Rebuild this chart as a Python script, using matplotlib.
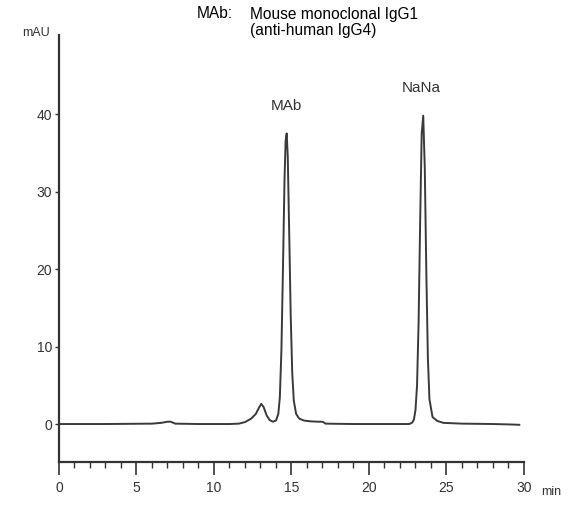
import matplotlib.pyplot as plt
from matplotlib.ticker import MultipleLocator

# retention time (min) and absorbance (mAU)
time = [0.0, 3.0, 6.0, 6.6, 7.0, 7.2, 7.5, 9.0, 11.0, 11.6, 12.0, 12.4, 12.7,
        12.9, 13.05, 13.2, 13.4, 13.6, 13.8, 14.0, 14.15, 14.25, 14.35, 14.45,
        14.55, 14.62, 14.69, 14.76, 14.85, 14.95, 15.05, 15.15, 15.3, 15.5,
        15.8, 16.2, 16.7, 16.95, 17.05, 17.2, 19.0, 21.0, 22.6, 22.8, 22.9,
        23.0, 23.1, 23.2, 23.3, 23.4, 23.5, 23.6, 23.7, 23.8, 23.9, 24.1,
        24.4, 24.8, 26.0, 28.0, 29.0, 29.7]
signal = [0.0, 0.0, 0.05, 0.15, 0.3, 0.3, 0.05, 0.0, 0.0, 0.05, 0.25, 0.7, 1.3,
          2.1, 2.6, 2.2, 1.1, 0.5, 0.3, 0.45, 1.3, 3.5, 9.5, 20.0,
          31.5, 36.5, 37.5, 34.5, 25.0, 14.0, 6.5, 3.0, 1.3, 0.7,
          0.45, 0.35, 0.3, 0.3, 0.25, 0.05, 0.0, 0.0, 0.0, 0.2, 0.6,
          1.8, 5.0, 13.0, 26.0, 37.5, 39.8, 33.0, 19.5, 8.5, 3.2, 0.9,
          0.4, 0.15, 0.05, 0.0, -0.05, -0.1]

y_ticks = [0, 10, 20, 30, 40]
x_ticks = [0, 5, 10, 15, 20, 25, 30]
peak_names = ["MAb", "NaNa"]
peak_times = [14.69, 23.4]
peak_heights = [37.5, 39.8]

plt.rcParams['font.family'] = ['Liberation Sans', 'DejaVu Sans']

fig = plt.figure(figsize=(5.76, 5.11), dpi=100)
ax = fig.add_axes([0.1024, 0.0959, 0.8073, 0.8356])

ax.plot(time, signal, color='#3a3a3a', lw=1.4)

ax.set_xlim(0, 30)
ax.set_ylim(-4.9, 50.2)
ax.spines['top'].set_visible(False)
ax.spines['right'].set_visible(False)
for s in ('left', 'bottom'):
    ax.spines[s].set_color('#333333')
    ax.spines[s].set_linewidth(1.6)

ax.set_xticks(x_ticks)
ax.xaxis.set_minor_locator(MultipleLocator(1))
ax.set_yticks(y_ticks)
ax.tick_params(axis='x', which='major', length=9, width=1.2, color='#333333',
               labelsize=10, labelcolor='#333333', pad=5)
ax.tick_params(axis='x', which='minor', length=4, width=1.0, color='#333333')
ax.tick_params(axis='y', which='major', length=3, width=1.0, color='#333333',
               labelsize=10, labelcolor='#333333', pad=2)

# axis unit labels
ax.text(31.1, -8.8, "min", ha='left', va='center', fontsize=9, color='#333333')
ax.text(-1.45, 50.4, "mAU", ha='center', va='center', fontsize=9, color='#333333')

for name, t, h in zip(peak_names, peak_times, peak_heights):
    ax.text(t, h + 3.6, name, ha='center', va='center', fontsize=11, color='#333333')

fig.text(197 / 576, 1 - 14 / 511, "MAb:", ha='left', va='center', fontsize=11.2)
fig.text(250 / 576, 1 - 14 / 511, "Mouse monoclonal IgG1", ha='left', va='center', fontsize=11.2)
fig.text(250 / 576, 1 - 30 / 511, "(anti-human IgG4)", ha='left', va='center', fontsize=11.2)

fig.savefig("out.png", dpi=100)
